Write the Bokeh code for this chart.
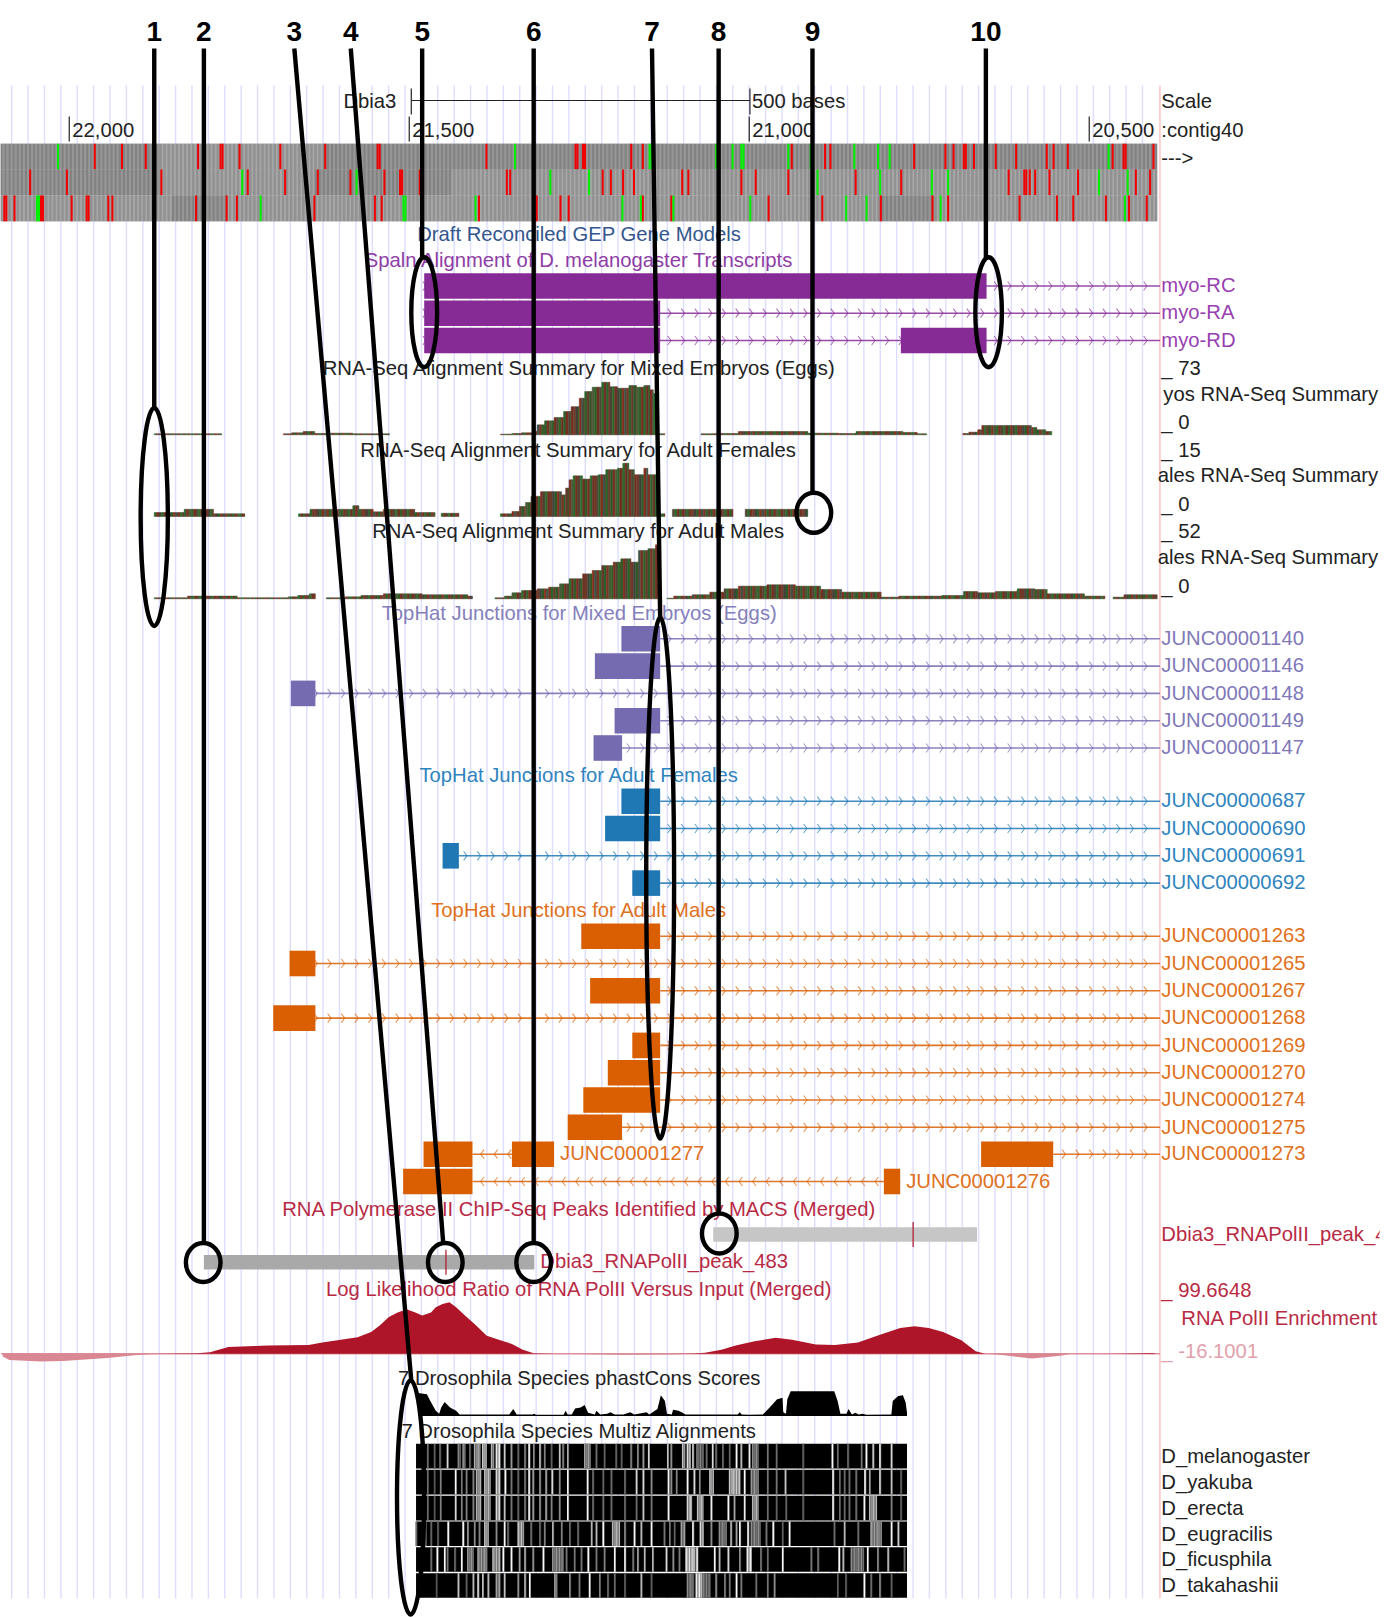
from bokeh.plotting import figure
from bokeh.models import Range1d
from bokeh.embed import file_html
from bokeh.resources import INLINE
from bokeh.core.properties import value
import numpy as np

# ---------------- data: genomic coordinates (bases)
scale_ticks = [22000, 21500, 21000, 20500]
scale_tick_labels = ["22,000", "21,500", "21,000", "20,500"]
scale_bar = [21497, 20999]

stop_red = [
    [21964,21924,21889,21812,21779,21776,21751,21691,21625,21548,21545,21388,21257,21254,21246,21243,21175,21158,
     20939,20890,20882,20759,20713,20701,20686,20683,20671,20639,20609,20564,20554,20533,20467,20451,20448,20407],
    [22059,22005,21866,21739,21684,21636,21588,21538,21515,21512,21486,21358,21353,21217,21205,21187,21171,21100,21091,
     21013,20992,20944,20845,20778,20620,20597,20594,20589,20581,20560,20518,20433,20412],
    [22097,22094,22082,22043,22040,21998,21976,21973,21944,21938,21815,21770,21755,21641,21552,21542,21399,21317,21314,21279,21267,21158,21116,
     20973,20894,20808,20732,20709,20604,20549,20525,20477,20443,20417],
]
stop_green = [
    [22018,21346,21148,21145,21050,21026,21013,21010,20944,20911,20847,20812,20795,20473],
    [21747,21579,21294,21237,20901,20809,20733,20709,20487,20445],
    [22049,22046,21720,21510,21507,21404,21188,21161,21113,21000,20859,20829,20720,20449],
]
# (start base, darker shading?) runs for each reading frame
frame_shade = [
    [(22102,1),(21870,0),(21630,1),(20399,1)],
    [(22102,1),(21870,0),(21640,1),(21440,0),(20900,0),(20790,0),(20399,0)],
    [(22102,0),(21850,1),(21770,0),(20900,0),(20810,1),(20730,0),(20399,0)],
]

gene_names = ["myo-RC", "myo-RA", "myo-RD"]
gene_blocks = [[(21478,20651)], [(21478,21131)], [(21478,21131),(20777,20651)]]
gene_end = 20396

junc_embryo = ["JUNC00001140","JUNC00001146","JUNC00001148","JUNC00001149","JUNC00001147"]
junc_embryo_blocks = [(21188,21131),(21227,21131),(21674,21638),(21198,21131),(21229,21187)]
junc_female = ["JUNC00000687","JUNC00000690","JUNC00000691","JUNC00000692"]
junc_female_blocks = [(21188,21131),(21212,21131),(21451,21427),(21172,21131)]
junc_male = ["JUNC00001263","JUNC00001265","JUNC00001267","JUNC00001268","JUNC00001269","JUNC00001270","JUNC00001274","JUNC00001275"]
junc_male_blocks = [(21247,21131),(21676,21638),(21234,21131),(21700,21638),(21172,21131),(21208,21131),(21244,21131),(21267,21187)]

emb_wig = [
    ([21875,21776],[1.4]),
    ([21685,21673,21656,21639,21628,21616,21583,21529],[1.4,2.7,4.5,1.8,1.8,2.2,1.4]),
    ([21366,21349,21335,21318,21312,21301,21287,21273,21262,21250,21242,21231,21217,21205,21194,21177,21166,21155,21146,21141,21137,21124],
     [.9,1.8,2.7,4.5,13.5,18.9,23.4,31.5,38,49.5,58.5,64.4,71,65,63,66.6,64.4,66.6,60.8,56,1.4]),
    ([21071,21050,21016,20914,20869,20843,20774,20753,20739],[1.4,1.8,4.5,2.2,1.8,4.5,3.2,1.4]),
    ([20686,20677,20664,20658,20585,20577,20564,20555],[1.8,3.6,6.8,12.6,9.9,6.8,4.5]),
]
fem_wig = [
    ([21875,21831,21788,21742],[1.1,2.0,.75]),
    ([21663,21646,21583,21574,21553,21538,21492,21462],[.75,2,3,2,1.3,2,1.1]),
    ([21453,21427],[.9]),
    ([21366,21349,21338,21329,21321,21307,21276,21270,21265,21259,21245,21234,21222,21211,21194,21186,21177,21169,21155,21149,21132,21124],
     [.75,1.4,2.8,3.9,5.6,6.9,6,7.9,10.2,11.3,10.4,11.3,11.6,13,13.4,14.8,13,11.6,13.4,11.6,.75]),
    ([21113,21024],[2]),
    ([21006,20914],[2]),
]
male_wig = [
    ([21875,21826,21753,21678,21664,21647,21638],[1,2.6,1,1.9,3.2,4.8]),
    ([21622,21594,21571,21538,21481,21414,21407],[1,1.9,3.2,4.8,3.9,2.6]),
    ([21374,21360,21349,21335,21312,21295,21279,21265,21245,21231,21217,21200,21189,21174,21163,21149,21138,21132],
     [1,2.6,5.8,8,9.6,11.2,14.4,19.3,24,27.3,32,35.3,38.5,35.3,46.5,48.2,52]),
    ([21121,21111,21084,21058,21037,21016,20974,20932,20895,20864,20806,20780,20717,20685,20664,20638,20606,20580,20562,20507,20477],
     [.6,2.6,3.9,6.4,9.6,12.2,13.5,12.2,9,6.4,1.6,2.6,3.2,7,5.8,7,9.6,9,4.8,2.6]),
    ([20465,20449,20400],[1.6,3.9]),
]
wig_max = [73, 15, 52]
read_colors = ["#2f5f2b","#7a2f22","#4d4436","#2f662b","#6f3224","#703a28","#44403a","#2c5c2a","#84301f",
               "#3f5246","#7a3324","#2e642c","#653a2a","#2c5c2c","#7a3324","#4a5a38","#2f622b","#72301f","#524536","#316a2d","#6c2e22"]

peaks = [("Dbia3_RNAPolII_peak_4", 21053, 20665, 20759), ("Dbia3_RNAPolII_peak_483", 21802, 21316, 21446)]
peak_fill = ["#c6c6c6", "#a9a9a9"]

llr = [(22098,-5),(22088,-12),(22042,-15),(22009,-14),(21944,-8),(21904,-3),(21878,-1),(21845,.5),(21812,1.3),(21793,3),
       (21766,13),(21727,15),(21707,16),(21648,17),(21628,22),(21576,32),(21556,42),(21543,55),(21530,71),(21517,80),
       (21504,86),(21491,80),(21481,74),(21468,80),(21461,90),(21451,96),(21441,99.7),(21431,90),(21418,74),(21402,55),
       (21386,35),(21366,26),(21349,19),(21333,8),(21317,1.3),(21287,.3),(21254,-.6),(21195,-2),(21169,-2),(21116,-1.3),
       (21082,.6),(21065,2),(21041,8),(21020,16),(20992,24),(20961,31),(20937,27),(20902,18),(20874,17),(20840,22),
       (20812,35),(20778,50),(20757,53),(20736,50),(20715,42),(20688,26),(20667,5),(20653,.3),(20625,-3),(20584,-9),
       (20542,-4),(20528,-.6),(20466,.3),(20404,1.5)]

phast = [(21487,.93),(21474,.87),(21469,.6),(21461,.2),(21456,.07),(21453,.33),(21448,.56),(21440,.33),(21431,.2),(21426,.04),
         (21353,.04),(21347,.27),(21342,.04),(21319,.04),(21316,.07),(21314,.03),(21273,.03),(21270,.2),(21267,.04),(21261,.04),
         (21256,.29),(21248,.33),(21242,.43),(21237,.11),(21227,.04),(21225,.2),(21219,.04),(21209,.07),(21204,.13),(21198,.04),
         (21185,.04),(21175,.13),(21169,.04),(21151,.13),(21147,.04),(21135,.27),(21130,.83),(21124,.6),(21121,.07),(21114,.04),
         (21112,.24),(21104,.2),(21098,.11),(21094,.04),(21017,.04),(21014,.13),(21011,.04),(21001,.03),(20980,.04),(20970,.33),
         (20959,.67),(20951,.73),(20950,.13),(20946,.07),(20944,.67),(20939,1),(20875,1),(20870,.6),(20866,.07),(20857,.07),
         (20854,.27),(20849,.04),(20844,.11),(20839,.04),(20833,.07),(20828,.03),(20791,.04),(20789,.6),(20781,.8),(20774,.83),
         (20770,.53),(20768,.11)]

species = ["D_melanogaster","D_yakuba","D_erecta","D_eugracilis","D_ficusphila","D_takahashii"]
multiz_span = (21490, 20768)
T = 3  # thin column width
mz1 = [(21474,100,T),(21464,90,T),(21456,100,T),(21445,200,3),(21429,120,5),(21422,130,5),(21412,100,T),(21405,160,10),(21393,190,7),
       (21380,170,5),(21373,220,7),(21361,190,T),(21351,140,T),(21341,90,T),(21331,120,T),(21325,230,T),(21318,130,T),(21309,180,T),
       (21302,120,T),(21292,90,T),(21280,180,T),(21275,120,T),(21268,160,T),(21243,150,10),(21226,100,T),(21214,90,T),(21197,90,T),
       (21189,90,T),(21175,120,T),(21165,130,T),(21157,140,T),(21149,200,T),
       (21121,180,T),(21116,130,T),(21099,180,5),(21092,210,6),(21084,190,T),(21078,120,11),(21064,100,T),(21055,200,T),(21050,100,T),
       (21040,100,T),(21030,90,T),(21020,230,3),(21013,170,T),(21001,220,T),(20996,130,10),(20974,110,T),(20961,100,T),(20922,90,T),
       (20879,230,T),(20871,100,T),(20856,100,T),(20836,110,T),(20829,230,T),(20819,180,T),(20809,220,T),(20792,200,T)]
mz2 = [(21474,100,T),(21464,80,T),(21455,120,T),(21433,230,T),(21424,110,T),(21417,120,T),(21407,120,T),(21402,170,8),(21390,180,10),
       (21373,200,7),(21360,230,T),(21351,110,T),(21341,90,T),(21331,110,T),(21325,230,T),(21319,140,T),(21309,140,T),(21300,150,T),
       (21291,200,T),(21280,130,T),(21268,230,T),(21239,230,T),(21231,100,T),(21216,90,T),(21204,100,T),(21184,100,T),(21167,200,T),
       (21157,200,T),(21145,130,T),
       (21120,230,3),(21116,130,T),(21108,120,T),(21092,230,T),(21082,200,T),(21074,130,T),(21059,180,7),(21030,190,17),(21008,230,T),
       (20998,140,12),(20974,110,T),(20961,110,T),(20948,180,T),(20922,90,T),(20878,230,T),(20868,100,T),(20861,100,T),(20854,100,T),
       (20844,100,T),(20831,230,T),(20824,150,T),(20809,200,T),(20792,180,T),(20778,90,T)]
mz3 = [(21474,100,T),(21464,80,T),(21455,120,T),(21433,200,T),(21424,120,T),(21417,120,T),(21407,120,T),(21402,170,8),(21390,170,10),
       (21373,200,7),(21361,180,T),(21351,110,T),(21341,90,T),(21331,110,T),(21325,230,T),(21319,140,T),(21309,140,T),(21300,150,T),
       (21292,120,T),(21280,130,T),(21268,230,T),(21239,230,T),(21231,100,T),(21216,100,T),(21204,100,T),(21184,100,T),(21167,100,T),
       (21157,180,T),(21145,110,T),
       (21120,230,3),(21092,200,8),(21077,180,10),(21057,220,T),(21032,230,3),(21023,150,T),(21008,220,T),(20996,170,10),(20974,100,T),
       (20961,90,T),(20947,90,T),(20922,90,T),(20878,230,T),(20868,100,T),(20861,100,T),(20854,100,T),(20844,100,T),(20832,230,T),
       (20824,170,12),(20792,120,T),(20778,90,T)]
mz4 = [(21491,100,T),(21477,110,T),(21469,90,T),(21459,90,T),(21444,230,T),(21422,230,T),(21415,140,T),(21405,130,T),(21398,120,T),
       (21390,180,7),(21373,130,T),(21361,230,T),(21356,100,T),(21341,180,10),(21322,100,T),(21309,100,T),(21302,120,T),(21290,170,T),
       (21277,120,T),(21265,100,T),(21253,100,T),(21233,170,T),(21226,170,T),(21216,230,T),(21202,170,12),(21184,130,T),(21170,230,T),
       (21160,170,T),(21145,230,T),
       (21126,110,T),(21118,110,T),(21111,90,T),(21101,150,7),(21084,230,T),(21073,200,6),(21057,130,T),(21045,130,12),(21028,170,T),
       (21020,150,T),(21015,230,T),(21003,230,T),(20998,130,15),(20976,110,T),(20966,230,T),(20952,90,T),(20942,230,T),(20876,100,T),
       (20861,170,T),(20841,100,T),(20822,150,17),(20792,230,T),(20782,190,T)]
mz5 = [(21469,100,T),(21460,230,T),(21449,230,T),(21445,110,T),(21434,100,T),(21424,230,T),(21415,140,10),(21400,150,15),(21378,170,12),
       (21363,230,T),(21351,230,T),(21339,150,T),(21331,160,T),(21319,130,T),(21304,230,T),(21290,140,17),(21270,110,T),(21258,110,T),
       (21248,110,T),(21238,230,T),(21226,110,T),(21214,120,T),(21199,230,T),(21184,230,T),(21172,110,T),(21165,150,T),(21155,170,T),
       (21143,170,T),
       (21123,200,T),(21113,130,T),(21104,110,T),(21094,210,15),(21078,230,T),(21052,230,T),(21045,170,T),(21032,200,T),(21015,130,T),
       (21004,220,8),(20984,110,T),(20974,100,T),(20952,230,T),(20910,110,T),(20900,110,T),(20869,230,T),(20863,170,T),(20851,130,20),
       (20827,230,T),(20812,130,T),(20797,170,T),(20773,100,T)]
mz6 = [(21461,80,T),(21429,180,T),(21417,90,T),(21407,170,T),(21400,200,T),(21393,180,T),(21385,170,T),(21373,150,7),(21361,180,T),
       (21341,130,T),(21331,170,T),(21324,230,T),(21287,150,5),(21265,130,T),(21251,110,T),(21236,230,T),(21221,120,T),(21209,100,T),
       (21199,100,T),(21184,90,T),(21160,170,T),(21145,90,T),
       (21092,130,11),(21079,220,10),(21069,120,12),(21050,130,T),(21037,120,T),(21030,110,T),(21020,230,T),(21013,110,T),(20991,100,T),
       (20974,110,T),(20964,130,T),(20871,90,T),(20859,90,T),(20832,230,T),(20822,100,T),(20809,130,T),(20792,90,T)]
multiz = [mz1, mz2, mz3, mz4, mz5, mz6]

callout_labels = ["1","2","3","4","5","6","7","8","9","10"]
callout_top = [21875,21802,21669,21586,21481,21317,21143,21045,20907,20652]
callout_bottom = [21875,21802,21497,21450,21481,21317,21131,21045,20907,20652]
callout_center = [21875,21803,21498,21447,21478,21317,21131,21044,20905,20648]
callout_w = [40,51,40,51,38,51,41,51,51,39]    # marker width in bases
callout_h = [218,39,234,39,110,39,521,40,40,110]  # marker height in track rows

# ---------------- helpers for track layout
X0, X1 = 22101.1, 20045.2
LABEL = 20394
RIGHT = 20075
MID = 21250
p = figure(width=1398, height=1617, x_range=Range1d(X0, X1), y_range=Range1d(1617, 0),
           toolbar_location=None, output_backend="svg", min_border=0, outline_line_color=None)
p.axis.visible = False
p.grid.visible = False
FONT = value("Liberation Sans")

def txt(x, y, s, color="#222222", align="left", size="20.25px", xo=0, font=FONT, style="normal"):
    p.text([x], [y - 0.8], text=[s], text_color=color, text_align=align, text_baseline="middle",
           text_font_size=size, text_font=font, x_offset=xo, text_font_style=style)

def chev(hi, lo, y, color, forward=True):
    xs, ys = [], []
    for tip in np.arange(21615 + 20 * 30, 20300, -20.0):
        if lo + 2 < tip < hi - 2:
            back = tip + 5 if forward else tip - 5
            xs.append([back, tip, back]); ys.append([y - 4.5, y, y + 4.5])
    p.multi_line(xs, ys, line_color=color, line_alpha=0.65, line_width=1.1)
    p.line([hi, lo], [y, y], line_color=color, line_width=1.6, line_alpha=0.85)

# base-position guides
guide = np.arange(22084.6, 20400, -24.1)
p.segment(guide, 85, guide, 1598, line_color="#DDDDFF", line_width=1.4)
p.segment([20396], 85, [20396], 1598, line_color="#FFC0C0", line_width=1.4)

# scale bar + ticks
p.segment(scale_ticks, 116, scale_ticks, 141, line_color="#222222", line_width=1.2)
for t, l in zip(scale_ticks, scale_tick_labels):
    txt(t, 130.7, l, xo=3)
p.line(scale_bar, [100, 100], line_color="#222222", line_width=1.2)
p.segment(scale_bar, 88, scale_bar, 114, line_color="#222222", line_width=1.2)
txt(scale_bar[0], 101, "Dbia3", align="right", xo=-15)
txt(scale_bar[1], 101, "500 bases", xo=2)
txt(LABEL, 101.7, "Scale"); txt(LABEL, 130.7, ":contig40"); txt(LABEL, 158, "--->")

# three-frame translation
frame_top = [143.3, 169, 195]
FH = 25.7
for r in range(3):
    hi = np.arange(22101.1, 20402, -3.0)
    runs = frame_shade[r]
    cols = []
    for i, b in enumerate(hi):
        dark = 0
        for (st, d) in runs:
            if b <= st:
                dark = d
        pal = ("#828282", "#979797") if dark else ("#919191", "#A6A6A6")
        cols.append(pal[i % 2])
    p.quad(left=[hi[0]], right=[hi[-1] - 3], top=frame_top[r], bottom=frame_top[r] + FH, fill_color="#8c8c8c", line_color=None)
    p.quad(left=hi, right=hi - 3, top=frame_top[r], bottom=frame_top[r] + FH, fill_color=cols, line_color=None)
    red = np.array(stop_red[r]); grn = np.array(stop_green[r])
    p.quad(left=red, right=red - 3, top=frame_top[r], bottom=frame_top[r] + FH, fill_color="#F00000", line_color=None)
    p.quad(left=grn, right=grn - 3, top=frame_top[r], bottom=frame_top[r] + FH, fill_color="#00F000", line_color=None)

# titles
titles = [("Draft Reconciled GEP Gene Models", 234.3, "#34568C"),
          ("Spaln Alignment of D. melanogaster Transcripts", 260.3, "#8E3DA5"),
          ("RNA-Seq Alignment Summary for Mixed Embryos (Eggs)", 368, "#222222"),
          ("RNA-Seq Alignment Summary for Adult Females", 450, "#222222"),
          ("RNA-Seq Alignment Summary for Adult Males", 531, "#222222"),
          ("TopHat Junctions for Mixed Embryos (Eggs)", 613.3, "#8580BB"),
          ("TopHat Junctions for Adult Females", 775, "#2F84BE"),
          ("TopHat Junctions for Adult Males", 910, "#E0711C"),
          ("RNA Polymerase II ChIP-Seq Peaks Identified by MACS (Merged)", 1209, "#B82A44"),
          ("Log Likelihood Ratio of RNA PolII Versus Input (Merged)", 1289, "#B82A44"),
          ("7 Drosophila Species phastCons Scores", 1378, "#222222"),
          ("7 Drosophila Species Multiz Alignments", 1431, "#222222")]
for t, y, c in titles:
    txt(MID, y, t, c, "center")

# genes
PUR = "#862A96"
for i, nm in enumerate(gene_names):
    y = [285.5, 312.7, 340][i]
    chev(gene_blocks[i][0][0], gene_end, y, PUR)
    for a, b in gene_blocks[i]:
        p.quad(left=[a], right=[b], top=[y - 12.8], bottom=[y + 12.8], fill_color=PUR, line_color=None)
    txt(LABEL, y, nm, "#983FB0")

# wiggles
base_y = [434.3, 516, 598.3]
for k, blocks in enumerate([emb_wig, fem_wig, male_wig]):
    L, R, T_, C = [], [], [], []
    n = 0
    for bases, vals in blocks:
        for j, v in enumerate(vals):
            for s in np.arange(bases[j], bases[j + 1], -3.5):
                L.append(s); R.append(max(s - 3.5, bases[j + 1]))
                T_.append(base_y[k] - v * 54.0 / wig_max[k])
                C.append(read_colors[n % len(read_colors)]); n += 1
    p.quad(left=L, right=R, top=T_, bottom=base_y[k], fill_color=C, line_color=C, line_width=0.5)

rl = [("_ 73", 368), ("yos RNA-Seq Summary", 394), ("_ 0", 422), ("_ 15", 450), ("ales RNA-Seq Summary", 475),
      ("_ 0", 504), ("_ 52", 531), ("ales RNA-Seq Summary", 557), ("_ 0", 586)]
for s, y in rl:
    if s.startswith("_"):
        txt(LABEL, y, s)
    else:
        txt(RIGHT, y, s, align="right")

# junction tracks
def junc(names, blocks, y0, color, tcolor):
    for i, (nm, (a, b)) in enumerate(zip(names, blocks)):
        y = y0 + i * 27.3
        chev(b, gene_end, y, color)
        p.quad(left=[a], right=[b], top=[y - 12.8], bottom=[y + 12.8], fill_color=color, line_color=None)
        txt(LABEL, y, nm, tcolor)
junc(junc_embryo, junc_embryo_blocks, 638.3, "#756BB1", "#7F78B8")
junc(junc_female, junc_female_blocks, 800.7, "#1F78B4", "#2F84BE")
junc(junc_male, junc_male_blocks, 935.7, "#D95F02", "#E0711C")
OR = "#D95F02"; ORT = "#E0711C"
y = 1153.7
chev(21407, 21349, y, OR, False)
for a, b in [(21479, 21407), (21349, 21287)]:
    p.quad(left=[a], right=[b], top=[y - 12.8], bottom=[y + 12.8], fill_color=OR, line_color=None)
txt(21287, y, "JUNC00001277", ORT, xo=6)
chev(20553, gene_end, y, OR)
p.quad(left=[20659], right=[20553], top=[y - 12.8], bottom=[y + 12.8], fill_color=OR, line_color=None)
txt(LABEL, y, "JUNC00001273", ORT)
y = 1181
chev(21407, 20778, y, OR, False)
for a, b in [(21509, 21407), (20802, 20778)]:
    p.quad(left=[a], right=[b], top=[y - 12.8], bottom=[y + 12.8], fill_color=OR, line_color=None)
txt(20778, y, "JUNC00001276", ORT, xo=6)

# peaks
CR = "#AE1529"
for (nm, a, b, c), y, col in zip(peaks, [1234, 1261.7], peak_fill):
    p.quad(left=[a], right=[b], top=[y - 7.3], bottom=[y + 7.3], fill_color=col, line_color=None)
    p.segment([c], y - 12.5, [c], y + 12.5, line_color=CR, line_width=1.2)
txt(LABEL, 1234, peaks[0][0], "#B82A44")
txt(peaks[1][2], 1261.7, peaks[1][0], "#B82A44", xo=6)
# the image cuts this label off at its right edge
p.quad(left=[20073], right=[X1], top=[1220], bottom=[1248], fill_color="white", line_color=None)

# LLR
bx = np.array([a for a, _ in llr], float); bv = np.array([v for _, v in llr], float)
Y0 = 1353.3; PX = 51.6 / 99.66
p.line([22100, 20396], [Y0, Y0], line_color="#DD8F9A", line_width=1.4)
p.varea(bx, y1=Y0 - np.maximum(bv, 0) * PX, y2=Y0, fill_color=CR)
p.varea(bx, y1=Y0 - np.minimum(bv, 0) * PX, y2=Y0, fill_color="#D98893")
txt(LABEL, 1290, "_ 99.6648", "#B82A44")
txt(RIGHT, 1318, "RNA PolII Enrichment", "#B82A44", "right")
txt(LABEL, 1351, "_ -16.1001", "#E2A0AB")

# phastCons
bx = [a for a, _ in phast]; bv = np.array([v for _, v in phast])
p.varea(bx, y1=1415 - bv * 24.3, y2=1415, fill_color="black")
p.line([bx[0], bx[-1]], [1415, 1415], line_color="black", line_width=1.2)

# multiz
mz_top = [1443.3, 1469.3, 1495.3, 1521, 1546.7, 1572.7]
for r, rows in enumerate(multiz):
    t, b = mz_top[r], mz_top[r] + 24.6
    p.quad(left=[multiz_span[0]], right=[multiz_span[1]], top=[t], bottom=[b], fill_color="black", line_color=None)
    L, R, C = [], [], []
    for (s, g, w) in rows:
        # wide columns are several neighbouring alignment columns of alternating depth
        k = 0
        pos = s
        while pos > s - w:
            step = min(2.5, pos - (s - w))
            shade = min(255, int(g * 1.08)) if k % 2 == 0 else int(g * 0.85)
            L.append(pos); R.append(pos - step); C.append("#%02x%02x%02x" % (shade, shade, shade))
            pos -= step; k += 1
    p.quad(left=L, right=R, top=t, bottom=b, fill_color=C, line_color=None)
    txt(LABEL, t + 13, species[r])

# callouts
p.segment(callout_top, 48, callout_bottom,
          [407, 1243, 1380, 1243, 257, 1243, 617, 1213, 492, 257],
          line_color="black", line_width=4.4)
p.ellipse(callout_center, [516.5, 1262, 1497, 1262, 311.7, 1262, 877.5, 1233, 512.3, 311.7],
          width=callout_w, height=callout_h, fill_alpha=0, line_color="black", line_width=4.4)
for x, s in zip(callout_top, callout_labels):
    txt(x, 31.5, s, "black", "center", "28px", style="bold")

open("out.html", "w").write(file_html(p, INLINE))
